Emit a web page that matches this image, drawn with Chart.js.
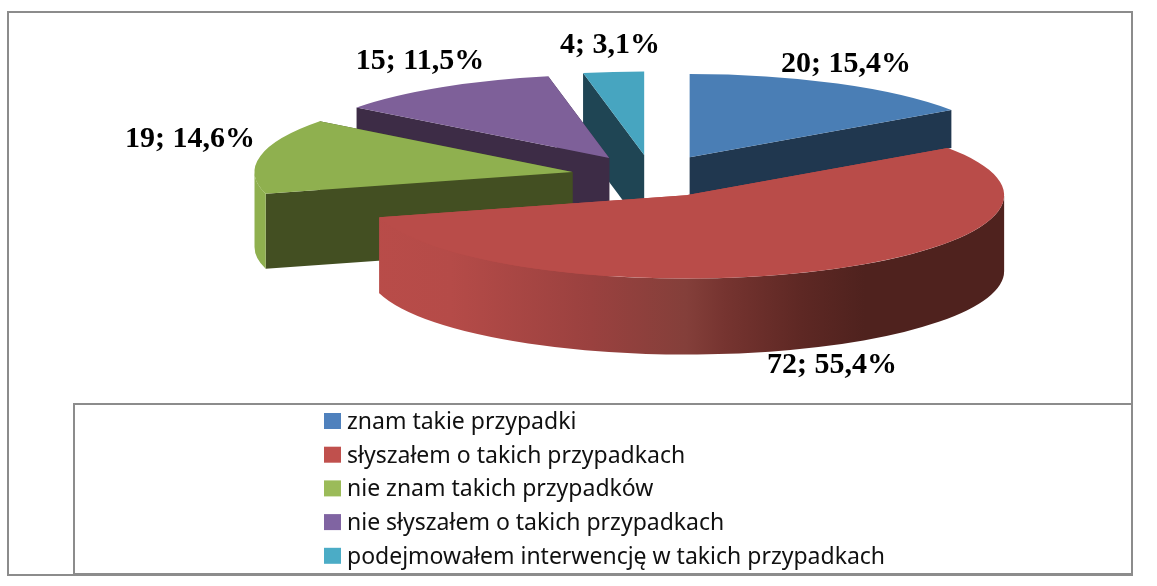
<!DOCTYPE html>
<html>
<head>
<meta charset="utf-8">
<style>
  html, body { margin: 0; padding: 0; background: #fff; }
  #wrap { position: relative; width: 1157px; height: 586px; overflow: hidden; }
</style>
</head>
<body>
<div id="wrap"><canvas id="pieChart" width="1157" height="586"></canvas></div>
<script src="https://cdn.jsdelivr.net/npm/chart.js@4"></script>
<script>
// data
const categories = [
    'znam takie przypadki',
    'słyszałem o takich przypadkach',
    'nie znam takich przypadków',
    'nie słyszałem o takich przypadkach',
    'podejmowałem interwencję w takich przypadkach'
];
const counts = [20, 72, 19, 15, 4];

// styles
const legendColors = ['#4f81bd', '#c0504d', '#9bbb59', '#8064a2', '#4bacc6'];
const topColors = ['#4a7eb5', '#b94c49', '#8fb04f', '#7e6099', '#47a5c0'];
const wallColors = ['#20374f', '#b94c49', '#434f22', '#3d2c46', '#1f4554'];
const rimColors = ['#20374f', null, '#8fb04f', '#3d2c46', '#1f4554'];
const wallDepth = [38, 76, 75, 60, 74];
const drawOrder = [4, 3, 0, 2, 1];
const labelAnchors = [[846, 72], [832, 373], [190, 147], [420, 69], [610, 53]];
const tilt = 0.262;
const explode = 81;

const total = counts.reduce((a, b) => a + b, 0);
const pctText = v => (v / total * 100).toFixed(1).replace('.', ',') + '%';

// draws the slices back to front, squashed, with side walls
const pie3d = {
    id: 'pie3d',
    beforeDatasetsDraw(chart) {
        const ctx = chart.ctx;
        const arcs = chart.getDatasetMeta(0).data;
        drawOrder.forEach(i => {
            const arc = arcs[i];
            const mid = (arc.startAngle + arc.endAngle) / 2;
            const r = arc.outerRadius;
            const ax = arc.x + Math.cos(mid) * explode;
            const ay = arc.y + Math.sin(mid) * explode * tilt;
            const d = wallDepth[i];

            // straight cut walls, the one further back first
            const sides = [arc.startAngle, arc.endAngle].sort((a, b) => Math.sin(a) - Math.sin(b));
            ctx.fillStyle = wallColors[i];
            sides.forEach(t => {
                const px = ax + r * Math.cos(t);
                const py = ay + r * tilt * Math.sin(t);
                ctx.beginPath();
                ctx.moveTo(ax, ay);
                ctx.lineTo(px, py);
                ctx.lineTo(px, py + d);
                ctx.lineTo(ax, ay + d);
                ctx.closePath();
                ctx.fill();
            });

            // outer rim, only the part facing the viewer
            const lo = Math.max(arc.startAngle, 0);
            const hi = Math.min(arc.endAngle, Math.PI);
            if (hi > lo) {
                let fill = rimColors[i];
                if (!fill) {
                    const g = ctx.createLinearGradient(ax - r, 0, ax + r, 0);
                    g.addColorStop(0, '#b94c49');
                    g.addColorStop(0.13, '#b54b48');
                    g.addColorStop(0.35, '#9a413f');
                    g.addColorStop(0.5, '#843f3a');
                    g.addColorStop(0.56, '#763430');
                    g.addColorStop(0.68, '#5e2824');
                    g.addColorStop(0.78, '#4f221e');
                    g.addColorStop(1, '#4f221e');
                    fill = g;
                }
                ctx.fillStyle = fill;
                ctx.beginPath();
                ctx.ellipse(ax, ay, r, r * tilt, 0, lo, hi);
                ctx.ellipse(ax, ay + d, r, r * tilt, 0, hi, lo, true);
                ctx.closePath();
                ctx.fill();
            }

            // top face is the library's own arc
            ctx.save();
            ctx.translate(ax, ay);
            ctx.scale(1, tilt);
            ctx.translate(-arc.x, -arc.y);
            arc.draw(ctx);
            ctx.restore();
        });
        return false;
    },
    afterDraw(chart) {
        const ctx = chart.ctx;
        ctx.save();

        // outer frame and legend frame
        ctx.strokeStyle = '#8c8c8c';
        ctx.lineWidth = 2;
        ctx.strokeRect(8, 12, 1124, 563);
        ctx.strokeRect(74, 404, 1058, 170);

        // value labels
        ctx.fillStyle = '#000';
        ctx.font = 'bold 30px "Liberation Serif"';
        ctx.textAlign = 'center';
        ctx.textBaseline = 'alphabetic';
        counts.forEach((v, i) => {
            ctx.fillText(v + '; ' + pctText(v), labelAnchors[i][0], labelAnchors[i][1]);
        });

        // legend
        ctx.font = '23px "Noto Sans"';
        ctx.textAlign = 'left';
        chart.data.labels.forEach((label, i) => {
            const y = 413 + i * 33.7;
            ctx.fillStyle = legendColors[i];
            ctx.fillRect(324, y, 17, 16);
            ctx.fillStyle = '#111';
            ctx.fillText(label, 347, y + 16);
        });
        ctx.restore();
    }
};

const ctx = document.getElementById('pieChart').getContext('2d');

const pieChart = new Chart(ctx, {
    type: 'pie',
    data: {
        labels: categories,
        datasets: [{
            data: counts,
            backgroundColor: topColors,
            borderWidth: 0
        }]
    },
    options: {
        responsive: false,
        animation: false,
        radius: 318,
        layout: { padding: { left: 147, right: 0, top: 0, bottom: 234 } },
        plugins: {
            legend: { display: false },
            tooltip: { enabled: false }
        }
    },
    plugins: [pie3d]
});
</script>
</body>
</html>
